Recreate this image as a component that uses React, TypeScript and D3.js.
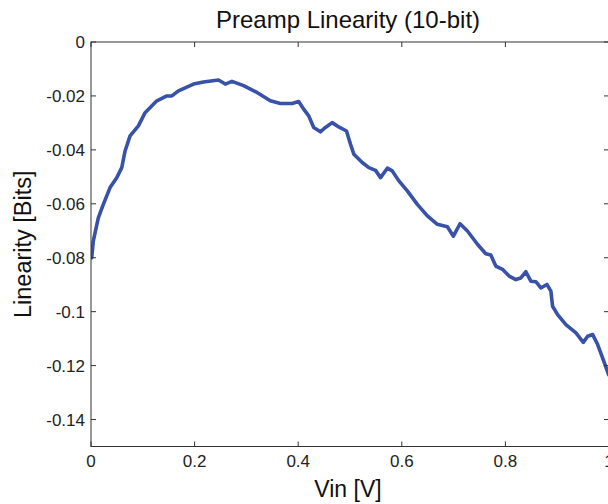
import React from "react";
import * as d3 from "d3";

const vin = [0.0014, 0.0044, 0.0141, 0.0238, 0.0368, 0.0497, 0.0594, 0.0658, 0.0754, 0.0915, 0.1044, 0.1271, 0.1464, 0.1561, 0.1689, 0.1979, 0.2172, 0.2462, 0.2592, 0.2721, 0.2946, 0.3205, 0.3462, 0.3656, 0.3882, 0.401, 0.4106, 0.4203, 0.43, 0.4429, 0.4526, 0.4656, 0.4783, 0.4932, 0.501, 0.5074, 0.5236, 0.5364, 0.5493, 0.559, 0.572, 0.5816, 0.5944, 0.6106, 0.63, 0.6493, 0.6687, 0.688, 0.6996, 0.7124, 0.7267, 0.746, 0.7621, 0.7718, 0.7814, 0.7944, 0.8072, 0.8201, 0.8298, 0.8395, 0.8491, 0.8588, 0.8685, 0.8801, 0.8878, 0.8911, 0.9008, 0.9168, 0.9362, 0.9503, 0.9588, 0.9685, 0.9781, 0.9878, 0.9994];
const linearity = [-0.08, -0.0738, -0.0652, -0.0602, -0.054, -0.0503, -0.0466, -0.0404, -0.0348, -0.0311, -0.0262, -0.0218, -0.02, -0.02, -0.0181, -0.0156, -0.0148, -0.0141, -0.0156, -0.0146, -0.0162, -0.0187, -0.0218, -0.0228, -0.0228, -0.0221, -0.0249, -0.0274, -0.0317, -0.0333, -0.0317, -0.0299, -0.0315, -0.033, -0.0379, -0.0416, -0.0447, -0.0466, -0.0476, -0.0503, -0.0468, -0.0478, -0.0515, -0.0552, -0.0602, -0.0645, -0.0676, -0.0685, -0.072, -0.0674, -0.0701, -0.075, -0.0785, -0.079, -0.0831, -0.0843, -0.0868, -0.0881, -0.0875, -0.0852, -0.0887, -0.0889, -0.0912, -0.0899, -0.0924, -0.098, -0.1011, -0.1048, -0.1079, -0.1114, -0.1091, -0.1085, -0.1122, -0.1172, -0.1234];
const xTicks = [0, 0.2, 0.4, 0.6, 0.8, 1];
const yTicks = [0, -0.02, -0.04, -0.06, -0.08, -0.1, -0.12, -0.14];
const title = "Preamp Linearity (10-bit)";
const xLabel = "Vin [V]";
const yLabel = "Linearity [Bits]";

export default function App() {
  const W = 608, H = 504;
  const left = 91, right = 609, top = 42, bottom = 446.5;
  const x = d3.scaleLinear().domain([0, 1]).range([left, right]);
  const y = d3.scaleLinear().domain([-0.15, 0]).range([bottom, top]);
  const pts = vin.map((v, i) => [v, linearity[i]] as [number, number]);
  const line = d3.line<[number, number]>().x(d => x(d[0])).y(d => y(d[1]));
  const font = "'Liberation Sans', Arial, Helvetica, sans-serif";
  const axisColor = "#333";
  const tl = 5;
  return (
    <svg width={W} height={H} style={{ position: "absolute", left: 0, top: 0, background: "#fff" }} fontFamily={font}>
      <defs>
        <clipPath id="clip"><rect x={left} y={top - 5} width={right - left} height={bottom - top + 5} /></clipPath>
      </defs>
      <rect x={0} y={0} width={W} height={H} fill="#fff" />
      <path d={line(pts) || ""} fill="none" stroke="#3752a8" strokeWidth={3.6} strokeLinejoin="round" strokeLinecap="round" clipPath="url(#clip)" />
      <rect x={left} y={top} width={right - left} height={bottom - top} fill="none" stroke={axisColor} strokeWidth={1} />
      {xTicks.map(t => (
        <g key={"x" + t}>
          <line x1={x(t)} x2={x(t)} y1={bottom} y2={bottom - tl} stroke={axisColor} />
          <line x1={x(t)} x2={x(t)} y1={top} y2={top + tl} stroke={axisColor} />
          <text x={x(t)} y={bottom + 20} textAnchor="middle" fontSize={17} fill="#222">{t === 0 || t === 1 ? String(t) : t.toFixed(1)}</text>
        </g>
      ))}
      {yTicks.map(t => (
        <g key={"y" + t}>
          <line x1={left} x2={left + tl} y1={y(t)} y2={y(t)} stroke={axisColor} />
          <line x1={right} x2={right - tl} y1={y(t)} y2={y(t)} stroke={axisColor} />
          <text x={left - 6} y={y(t) + 6} textAnchor="end" fontSize={17} fill="#222">{t === 0 ? "0" : String(t)}</text>
        </g>
      ))}
      <text x={348} y={28} textAnchor="middle" fontSize={24} fill="#111">{title}</text>
      <text x={348} y={497} textAnchor="middle" fontSize={23} fill="#111">{xLabel}</text>
      <text transform={`translate(31, ${(top + bottom) / 2}) rotate(-90)`} textAnchor="middle" fontSize={23.5} fill="#111">{yLabel}</text>
    </svg>
  );
}
